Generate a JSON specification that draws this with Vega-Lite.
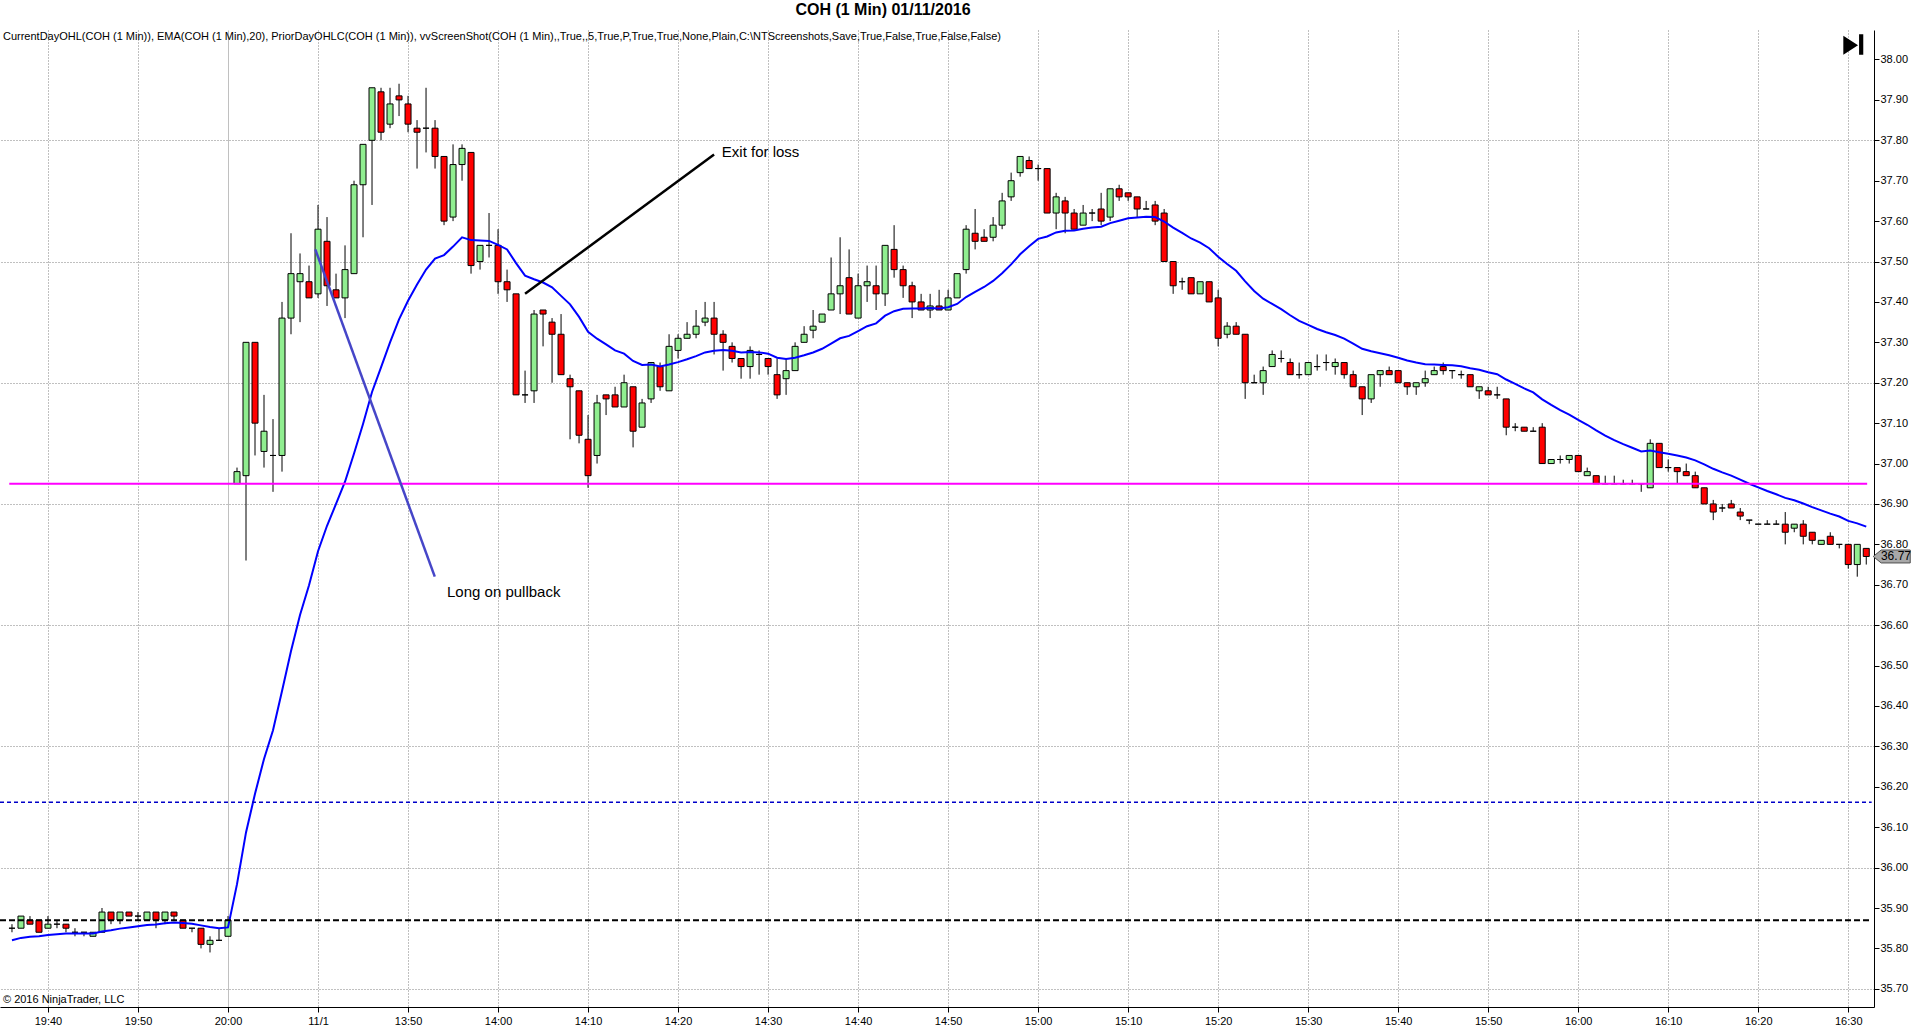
{
  "$schema": "https://vega.github.io/schema/vega-lite/v6.json",
  "width": 1874,
  "height": 977,
  "autosize": {"type": "none"},
  "padding": {"left": 0, "top": 30, "right": 46, "bottom": 27},
  "background": "white",
  "title": {
    "text": "COH (1 Min)  01/11/2016",
    "font": "Liberation Sans",
    "fontSize": 16,
    "fontWeight": "bold",
    "color": "black",
    "anchor": "middle",
    "frame": "group",
    "dx": -54,
    "offset": 12
  },
  "config": {
    "view": {"stroke": null},
    "font": "Liberation Sans",
    "axis": {"labelFont": "Liberation Sans", "labelColor": "black", "domainColor": "black", "tickColor": "black"}
  },
  "datasets": {
    "bars": [
      {"i":0,"t":"19:36","o":35.85,"h":35.86,"l":35.84,"c":35.85,"e":35.820},
      {"i":1,"t":"19:37","o":35.85,"h":35.88,"l":35.85,"c":35.88,"e":35.826},
      {"i":2,"t":"19:38","o":35.87,"h":35.88,"l":35.86,"c":35.86,"e":35.829},
      {"i":3,"t":"19:39","o":35.87,"h":35.87,"l":35.84,"c":35.84,"e":35.830},
      {"i":4,"t":"19:40","o":35.85,"h":35.88,"l":35.85,"c":35.86,"e":35.833},
      {"i":5,"t":"19:41","o":35.86,"h":35.87,"l":35.85,"c":35.86,"e":35.835},
      {"i":6,"t":"19:42","o":35.86,"h":35.86,"l":35.84,"c":35.85,"e":35.837},
      {"i":7,"t":"19:43","o":35.84,"h":35.85,"l":35.83,"c":35.84,"e":35.837},
      {"i":8,"t":"19:44","o":35.84,"h":35.84,"l":35.83,"c":35.84,"e":35.837},
      {"i":9,"t":"19:45","o":35.83,"h":35.84,"l":35.83,"c":35.84,"e":35.837},
      {"i":10,"t":"19:46","o":35.84,"h":35.90,"l":35.84,"c":35.89,"e":35.842},
      {"i":11,"t":"19:47","o":35.89,"h":35.89,"l":35.86,"c":35.87,"e":35.845},
      {"i":12,"t":"19:48","o":35.87,"h":35.89,"l":35.86,"c":35.89,"e":35.849},
      {"i":13,"t":"19:49","o":35.89,"h":35.89,"l":35.88,"c":35.88,"e":35.852},
      {"i":14,"t":"19:50","o":35.88,"h":35.89,"l":35.87,"c":35.88,"e":35.855},
      {"i":15,"t":"19:51","o":35.87,"h":35.89,"l":35.87,"c":35.89,"e":35.858},
      {"i":16,"t":"19:52","o":35.89,"h":35.89,"l":35.85,"c":35.87,"e":35.859},
      {"i":17,"t":"19:53","o":35.87,"h":35.89,"l":35.86,"c":35.89,"e":35.862},
      {"i":18,"t":"19:54","o":35.89,"h":35.89,"l":35.87,"c":35.88,"e":35.864},
      {"i":19,"t":"19:55","o":35.87,"h":35.87,"l":35.85,"c":35.85,"e":35.863},
      {"i":20,"t":"19:56","o":35.85,"h":35.85,"l":35.84,"c":35.85,"e":35.861},
      {"i":21,"t":"19:57","o":35.85,"h":35.85,"l":35.80,"c":35.81,"e":35.857},
      {"i":22,"t":"19:58","o":35.81,"h":35.83,"l":35.79,"c":35.82,"e":35.853},
      {"i":23,"t":"19:59","o":35.82,"h":35.85,"l":35.82,"c":35.82,"e":35.850},
      {"i":24,"t":"20:00","o":35.83,"h":35.88,"l":35.83,"c":35.87,"e":35.852},
      {"i":25,"t":"13:31","o":36.95,"h":36.99,"l":36.95,"c":36.98,"e":35.959},
      {"i":26,"t":"13:32","o":36.97,"h":37.30,"l":36.76,"c":37.30,"e":36.087},
      {"i":27,"t":"13:33","o":37.30,"h":37.30,"l":37.02,"c":37.10,"e":36.183},
      {"i":28,"t":"13:34","o":37.03,"h":37.17,"l":36.99,"c":37.08,"e":36.269},
      {"i":29,"t":"13:35","o":37.02,"h":37.11,"l":36.93,"c":37.02,"e":36.340},
      {"i":30,"t":"13:36","o":37.02,"h":37.40,"l":36.98,"c":37.36,"e":36.437},
      {"i":31,"t":"13:37","o":37.36,"h":37.57,"l":37.32,"c":37.47,"e":36.536},
      {"i":32,"t":"13:38","o":37.45,"h":37.52,"l":37.35,"c":37.47,"e":36.625},
      {"i":33,"t":"13:39","o":37.45,"h":37.49,"l":37.41,"c":37.41,"e":36.699},
      {"i":34,"t":"13:40","o":37.42,"h":37.64,"l":37.41,"c":37.58,"e":36.783},
      {"i":35,"t":"13:41","o":37.55,"h":37.61,"l":37.39,"c":37.44,"e":36.846},
      {"i":36,"t":"13:42","o":37.43,"h":37.47,"l":37.41,"c":37.41,"e":36.900},
      {"i":37,"t":"13:43","o":37.41,"h":37.54,"l":37.36,"c":37.48,"e":36.955},
      {"i":38,"t":"13:44","o":37.47,"h":37.70,"l":37.47,"c":37.69,"e":37.025},
      {"i":39,"t":"13:45","o":37.69,"h":37.79,"l":37.56,"c":37.79,"e":37.098},
      {"i":40,"t":"13:46","o":37.80,"h":37.93,"l":37.64,"c":37.93,"e":37.177},
      {"i":41,"t":"13:47","o":37.92,"h":37.93,"l":37.80,"c":37.82,"e":37.238},
      {"i":42,"t":"13:48","o":37.84,"h":37.93,"l":37.83,"c":37.89,"e":37.300},
      {"i":43,"t":"13:49","o":37.91,"h":37.94,"l":37.86,"c":37.90,"e":37.357},
      {"i":44,"t":"13:50","o":37.89,"h":37.91,"l":37.82,"c":37.84,"e":37.403},
      {"i":45,"t":"13:51","o":37.83,"h":37.85,"l":37.73,"c":37.82,"e":37.443},
      {"i":46,"t":"13:52","o":37.83,"h":37.93,"l":37.77,"c":37.83,"e":37.480},
      {"i":47,"t":"13:53","o":37.83,"h":37.85,"l":37.73,"c":37.76,"e":37.507},
      {"i":48,"t":"13:54","o":37.76,"h":37.76,"l":37.59,"c":37.60,"e":37.516},
      {"i":49,"t":"13:55","o":37.61,"h":37.79,"l":37.60,"c":37.74,"e":37.537},
      {"i":50,"t":"13:56","o":37.74,"h":37.79,"l":37.70,"c":37.78,"e":37.560},
      {"i":51,"t":"13:57","o":37.77,"h":37.77,"l":37.47,"c":37.49,"e":37.553},
      {"i":52,"t":"13:58","o":37.50,"h":37.54,"l":37.48,"c":37.54,"e":37.552},
      {"i":53,"t":"13:59","o":37.54,"h":37.62,"l":37.51,"c":37.54,"e":37.551},
      {"i":54,"t":"14:00","o":37.54,"h":37.58,"l":37.42,"c":37.45,"e":37.541},
      {"i":55,"t":"14:01","o":37.45,"h":37.48,"l":37.40,"c":37.43,"e":37.530},
      {"i":56,"t":"14:02","o":37.42,"h":37.42,"l":37.17,"c":37.17,"e":37.496},
      {"i":57,"t":"14:03","o":37.17,"h":37.23,"l":37.15,"c":37.17,"e":37.465},
      {"i":58,"t":"14:04","o":37.18,"h":37.38,"l":37.15,"c":37.37,"e":37.456},
      {"i":59,"t":"14:05","o":37.38,"h":37.38,"l":37.29,"c":37.37,"e":37.448},
      {"i":60,"t":"14:06","o":37.35,"h":37.36,"l":37.20,"c":37.32,"e":37.436},
      {"i":61,"t":"14:07","o":37.32,"h":37.37,"l":37.22,"c":37.22,"e":37.415},
      {"i":62,"t":"14:08","o":37.21,"h":37.22,"l":37.06,"c":37.19,"e":37.394},
      {"i":63,"t":"14:09","o":37.18,"h":37.18,"l":37.05,"c":37.07,"e":37.363},
      {"i":64,"t":"14:10","o":37.06,"h":37.12,"l":36.94,"c":36.97,"e":37.326},
      {"i":65,"t":"14:11","o":37.02,"h":37.17,"l":37.00,"c":37.15,"e":37.309},
      {"i":66,"t":"14:12","o":37.17,"h":37.17,"l":37.12,"c":37.16,"e":37.295},
      {"i":67,"t":"14:13","o":37.17,"h":37.19,"l":37.14,"c":37.14,"e":37.280},
      {"i":68,"t":"14:14","o":37.14,"h":37.22,"l":37.14,"c":37.20,"e":37.272},
      {"i":69,"t":"14:15","o":37.19,"h":37.19,"l":37.04,"c":37.08,"e":37.254},
      {"i":70,"t":"14:16","o":37.09,"h":37.16,"l":37.09,"c":37.15,"e":37.244},
      {"i":71,"t":"14:17","o":37.16,"h":37.25,"l":37.15,"c":37.25,"e":37.245},
      {"i":72,"t":"14:18","o":37.24,"h":37.25,"l":37.18,"c":37.19,"e":37.240},
      {"i":73,"t":"14:19","o":37.18,"h":37.32,"l":37.18,"c":37.29,"e":37.245},
      {"i":74,"t":"14:20","o":37.28,"h":37.32,"l":37.26,"c":37.31,"e":37.251},
      {"i":75,"t":"14:21","o":37.31,"h":37.35,"l":37.31,"c":37.32,"e":37.258},
      {"i":76,"t":"14:22","o":37.32,"h":37.38,"l":37.31,"c":37.34,"e":37.266},
      {"i":77,"t":"14:23","o":37.35,"h":37.40,"l":37.34,"c":37.36,"e":37.275},
      {"i":78,"t":"14:24","o":37.36,"h":37.40,"l":37.27,"c":37.32,"e":37.279},
      {"i":79,"t":"14:25","o":37.32,"h":37.33,"l":37.23,"c":37.30,"e":37.281},
      {"i":80,"t":"14:26","o":37.29,"h":37.30,"l":37.25,"c":37.26,"e":37.279},
      {"i":81,"t":"14:27","o":37.26,"h":37.26,"l":37.21,"c":37.24,"e":37.275},
      {"i":82,"t":"14:28","o":37.24,"h":37.29,"l":37.21,"c":37.28,"e":37.276},
      {"i":83,"t":"14:29","o":37.27,"h":37.28,"l":37.22,"c":37.27,"e":37.275},
      {"i":84,"t":"14:30","o":37.26,"h":37.26,"l":37.22,"c":37.24,"e":37.272},
      {"i":85,"t":"14:31","o":37.22,"h":37.26,"l":37.16,"c":37.17,"e":37.262},
      {"i":86,"t":"14:32","o":37.21,"h":37.26,"l":37.17,"c":37.23,"e":37.259},
      {"i":87,"t":"14:33","o":37.23,"h":37.30,"l":37.23,"c":37.29,"e":37.262},
      {"i":88,"t":"14:34","o":37.30,"h":37.34,"l":37.30,"c":37.32,"e":37.268},
      {"i":89,"t":"14:35","o":37.33,"h":37.38,"l":37.31,"c":37.34,"e":37.275},
      {"i":90,"t":"14:36","o":37.35,"h":37.37,"l":37.35,"c":37.37,"e":37.284},
      {"i":91,"t":"14:37","o":37.38,"h":37.51,"l":37.38,"c":37.42,"e":37.297},
      {"i":92,"t":"14:38","o":37.42,"h":37.56,"l":37.37,"c":37.44,"e":37.310},
      {"i":93,"t":"14:39","o":37.46,"h":37.53,"l":37.37,"c":37.37,"e":37.316},
      {"i":94,"t":"14:40","o":37.36,"h":37.47,"l":37.36,"c":37.44,"e":37.328},
      {"i":95,"t":"14:41","o":37.44,"h":37.49,"l":37.40,"c":37.45,"e":37.340},
      {"i":96,"t":"14:42","o":37.44,"h":37.49,"l":37.38,"c":37.42,"e":37.347},
      {"i":97,"t":"14:43","o":37.42,"h":37.54,"l":37.39,"c":37.54,"e":37.366},
      {"i":98,"t":"14:44","o":37.53,"h":37.59,"l":37.46,"c":37.48,"e":37.377},
      {"i":99,"t":"14:45","o":37.48,"h":37.49,"l":37.41,"c":37.44,"e":37.383},
      {"i":100,"t":"14:46","o":37.44,"h":37.45,"l":37.36,"c":37.40,"e":37.384},
      {"i":101,"t":"14:47","o":37.40,"h":37.42,"l":37.38,"c":37.38,"e":37.384},
      {"i":102,"t":"14:48","o":37.38,"h":37.42,"l":37.36,"c":37.39,"e":37.385},
      {"i":103,"t":"14:49","o":37.39,"h":37.43,"l":37.38,"c":37.38,"e":37.384},
      {"i":104,"t":"14:50","o":37.38,"h":37.43,"l":37.38,"c":37.41,"e":37.387},
      {"i":105,"t":"14:51","o":37.41,"h":37.47,"l":37.41,"c":37.47,"e":37.395},
      {"i":106,"t":"14:52","o":37.48,"h":37.59,"l":37.47,"c":37.58,"e":37.412},
      {"i":107,"t":"14:53","o":37.57,"h":37.63,"l":37.53,"c":37.55,"e":37.425},
      {"i":108,"t":"14:54","o":37.56,"h":37.58,"l":37.55,"c":37.55,"e":37.437},
      {"i":109,"t":"14:55","o":37.56,"h":37.61,"l":37.55,"c":37.59,"e":37.452},
      {"i":110,"t":"14:56","o":37.59,"h":37.67,"l":37.58,"c":37.65,"e":37.471},
      {"i":111,"t":"14:57","o":37.66,"h":37.72,"l":37.65,"c":37.70,"e":37.493},
      {"i":112,"t":"14:58","o":37.72,"h":37.76,"l":37.71,"c":37.76,"e":37.518},
      {"i":113,"t":"14:59","o":37.75,"h":37.76,"l":37.73,"c":37.73,"e":37.538},
      {"i":114,"t":"15:00","o":37.73,"h":37.74,"l":37.70,"c":37.73,"e":37.556},
      {"i":115,"t":"15:01","o":37.73,"h":37.73,"l":37.62,"c":37.62,"e":37.562},
      {"i":116,"t":"15:02","o":37.62,"h":37.67,"l":37.58,"c":37.66,"e":37.572},
      {"i":117,"t":"15:03","o":37.65,"h":37.66,"l":37.57,"c":37.62,"e":37.576},
      {"i":118,"t":"15:04","o":37.62,"h":37.63,"l":37.58,"c":37.58,"e":37.577},
      {"i":119,"t":"15:05","o":37.59,"h":37.64,"l":37.59,"c":37.62,"e":37.581},
      {"i":120,"t":"15:06","o":37.62,"h":37.63,"l":37.60,"c":37.62,"e":37.584},
      {"i":121,"t":"15:07","o":37.63,"h":37.67,"l":37.59,"c":37.60,"e":37.586},
      {"i":122,"t":"15:08","o":37.61,"h":37.68,"l":37.60,"c":37.68,"e":37.595},
      {"i":123,"t":"15:09","o":37.68,"h":37.69,"l":37.65,"c":37.66,"e":37.601},
      {"i":124,"t":"15:10","o":37.67,"h":37.67,"l":37.65,"c":37.66,"e":37.607},
      {"i":125,"t":"15:11","o":37.66,"h":37.66,"l":37.61,"c":37.63,"e":37.609},
      {"i":126,"t":"15:12","o":37.63,"h":37.65,"l":37.63,"c":37.63,"e":37.611},
      {"i":127,"t":"15:13","o":37.64,"h":37.65,"l":37.59,"c":37.60,"e":37.610},
      {"i":128,"t":"15:14","o":37.62,"h":37.63,"l":37.50,"c":37.50,"e":37.599},
      {"i":129,"t":"15:15","o":37.50,"h":37.50,"l":37.42,"c":37.44,"e":37.584},
      {"i":130,"t":"15:16","o":37.45,"h":37.46,"l":37.43,"c":37.45,"e":37.571},
      {"i":131,"t":"15:17","o":37.46,"h":37.46,"l":37.42,"c":37.42,"e":37.557},
      {"i":132,"t":"15:18","o":37.42,"h":37.45,"l":37.42,"c":37.45,"e":37.547},
      {"i":133,"t":"15:19","o":37.45,"h":37.45,"l":37.40,"c":37.40,"e":37.533},
      {"i":134,"t":"15:20","o":37.41,"h":37.43,"l":37.29,"c":37.31,"e":37.512},
      {"i":135,"t":"15:21","o":37.32,"h":37.35,"l":37.31,"c":37.34,"e":37.494},
      {"i":136,"t":"15:22","o":37.34,"h":37.35,"l":37.32,"c":37.32,"e":37.477},
      {"i":137,"t":"15:23","o":37.32,"h":37.32,"l":37.16,"c":37.20,"e":37.451},
      {"i":138,"t":"15:24","o":37.20,"h":37.22,"l":37.20,"c":37.20,"e":37.427},
      {"i":139,"t":"15:25","o":37.20,"h":37.24,"l":37.17,"c":37.23,"e":37.408},
      {"i":140,"t":"15:26","o":37.24,"h":37.28,"l":37.24,"c":37.27,"e":37.395},
      {"i":141,"t":"15:27","o":37.26,"h":37.28,"l":37.25,"c":37.26,"e":37.382},
      {"i":142,"t":"15:28","o":37.25,"h":37.26,"l":37.22,"c":37.22,"e":37.367},
      {"i":143,"t":"15:29","o":37.22,"h":37.25,"l":37.21,"c":37.22,"e":37.353},
      {"i":144,"t":"15:30","o":37.22,"h":37.25,"l":37.22,"c":37.25,"e":37.343},
      {"i":145,"t":"15:31","o":37.24,"h":37.27,"l":37.23,"c":37.24,"e":37.333},
      {"i":146,"t":"15:32","o":37.25,"h":37.27,"l":37.23,"c":37.25,"e":37.325},
      {"i":147,"t":"15:33","o":37.24,"h":37.26,"l":37.22,"c":37.25,"e":37.318},
      {"i":148,"t":"15:34","o":37.25,"h":37.25,"l":37.21,"c":37.22,"e":37.309},
      {"i":149,"t":"15:35","o":37.22,"h":37.23,"l":37.19,"c":37.19,"e":37.297},
      {"i":150,"t":"15:36","o":37.19,"h":37.19,"l":37.12,"c":37.16,"e":37.284},
      {"i":151,"t":"15:37","o":37.16,"h":37.22,"l":37.15,"c":37.22,"e":37.278},
      {"i":152,"t":"15:38","o":37.22,"h":37.23,"l":37.19,"c":37.23,"e":37.273},
      {"i":153,"t":"15:39","o":37.23,"h":37.24,"l":37.22,"c":37.22,"e":37.268},
      {"i":154,"t":"15:40","o":37.23,"h":37.23,"l":37.20,"c":37.20,"e":37.262},
      {"i":155,"t":"15:41","o":37.20,"h":37.20,"l":37.17,"c":37.19,"e":37.255},
      {"i":156,"t":"15:42","o":37.19,"h":37.20,"l":37.17,"c":37.20,"e":37.250},
      {"i":157,"t":"15:43","o":37.20,"h":37.23,"l":37.19,"c":37.21,"e":37.246},
      {"i":158,"t":"15:44","o":37.22,"h":37.24,"l":37.22,"c":37.23,"e":37.245},
      {"i":159,"t":"15:45","o":37.24,"h":37.25,"l":37.22,"c":37.23,"e":37.244},
      {"i":160,"t":"15:46","o":37.23,"h":37.23,"l":37.21,"c":37.23,"e":37.243},
      {"i":161,"t":"15:47","o":37.22,"h":37.23,"l":37.21,"c":37.22,"e":37.241},
      {"i":162,"t":"15:48","o":37.22,"h":37.22,"l":37.19,"c":37.19,"e":37.236},
      {"i":163,"t":"15:49","o":37.18,"h":37.19,"l":37.16,"c":37.19,"e":37.232},
      {"i":164,"t":"15:50","o":37.18,"h":37.19,"l":37.17,"c":37.17,"e":37.226},
      {"i":165,"t":"15:51","o":37.17,"h":37.19,"l":37.16,"c":37.17,"e":37.221},
      {"i":166,"t":"15:52","o":37.16,"h":37.16,"l":37.07,"c":37.09,"e":37.208},
      {"i":167,"t":"15:53","o":37.09,"h":37.10,"l":37.08,"c":37.09,"e":37.197},
      {"i":168,"t":"15:54","o":37.09,"h":37.09,"l":37.08,"c":37.08,"e":37.186},
      {"i":169,"t":"15:55","o":37.08,"h":37.09,"l":37.08,"c":37.08,"e":37.176},
      {"i":170,"t":"15:56","o":37.09,"h":37.10,"l":37.00,"c":37.00,"e":37.159},
      {"i":171,"t":"15:57","o":37.00,"h":37.01,"l":37.00,"c":37.01,"e":37.145},
      {"i":172,"t":"15:58","o":37.01,"h":37.02,"l":37.00,"c":37.01,"e":37.132},
      {"i":173,"t":"15:59","o":37.01,"h":37.02,"l":37.00,"c":37.02,"e":37.121},
      {"i":174,"t":"16:00","o":37.02,"h":37.02,"l":36.98,"c":36.98,"e":37.108},
      {"i":175,"t":"16:01","o":36.97,"h":36.99,"l":36.97,"c":36.98,"e":37.096},
      {"i":176,"t":"16:02","o":36.97,"h":36.97,"l":36.95,"c":36.95,"e":37.082},
      {"i":177,"t":"16:03","o":36.95,"h":36.97,"l":36.95,"c":36.95,"e":37.069},
      {"i":178,"t":"16:04","o":36.95,"h":36.97,"l":36.95,"c":36.95,"e":37.058},
      {"i":179,"t":"16:05","o":36.95,"h":36.96,"l":36.95,"c":36.95,"e":37.048},
      {"i":180,"t":"16:06","o":36.95,"h":36.96,"l":36.95,"c":36.95,"e":37.039},
      {"i":181,"t":"16:07","o":36.95,"h":36.95,"l":36.93,"c":36.95,"e":37.030},
      {"i":182,"t":"16:08","o":36.94,"h":37.06,"l":36.94,"c":37.05,"e":37.032},
      {"i":183,"t":"16:09","o":37.05,"h":37.05,"l":36.99,"c":36.99,"e":37.028},
      {"i":184,"t":"16:10","o":36.99,"h":37.01,"l":36.98,"c":36.99,"e":37.024},
      {"i":185,"t":"16:11","o":36.99,"h":36.99,"l":36.95,"c":36.98,"e":37.020},
      {"i":186,"t":"16:12","o":36.98,"h":37.00,"l":36.97,"c":36.97,"e":37.015},
      {"i":187,"t":"16:13","o":36.97,"h":36.98,"l":36.94,"c":36.94,"e":37.008},
      {"i":188,"t":"16:14","o":36.94,"h":36.94,"l":36.90,"c":36.90,"e":36.998},
      {"i":189,"t":"16:15","o":36.90,"h":36.91,"l":36.86,"c":36.88,"e":36.987},
      {"i":190,"t":"16:16","o":36.89,"h":36.90,"l":36.88,"c":36.89,"e":36.978},
      {"i":191,"t":"16:17","o":36.90,"h":36.91,"l":36.89,"c":36.89,"e":36.970},
      {"i":192,"t":"16:18","o":36.88,"h":36.89,"l":36.86,"c":36.87,"e":36.960},
      {"i":193,"t":"16:19","o":36.86,"h":36.86,"l":36.85,"c":36.86,"e":36.950},
      {"i":194,"t":"16:20","o":36.85,"h":36.85,"l":36.85,"c":36.85,"e":36.941},
      {"i":195,"t":"16:21","o":36.85,"h":36.86,"l":36.85,"c":36.85,"e":36.932},
      {"i":196,"t":"16:22","o":36.85,"h":36.86,"l":36.85,"c":36.85,"e":36.924},
      {"i":197,"t":"16:23","o":36.85,"h":36.88,"l":36.80,"c":36.83,"e":36.915},
      {"i":198,"t":"16:24","o":36.84,"h":36.85,"l":36.83,"c":36.85,"e":36.909},
      {"i":199,"t":"16:25","o":36.85,"h":36.86,"l":36.80,"c":36.82,"e":36.901},
      {"i":200,"t":"16:26","o":36.83,"h":36.83,"l":36.80,"c":36.81,"e":36.892},
      {"i":201,"t":"16:27","o":36.80,"h":36.81,"l":36.80,"c":36.81,"e":36.884},
      {"i":202,"t":"16:28","o":36.82,"h":36.83,"l":36.80,"c":36.80,"e":36.876},
      {"i":203,"t":"16:29","o":36.80,"h":36.80,"l":36.79,"c":36.80,"e":36.869},
      {"i":204,"t":"16:30","o":36.80,"h":36.80,"l":36.74,"c":36.75,"e":36.858},
      {"i":205,"t":"16:31","o":36.75,"h":36.80,"l":36.72,"c":36.80,"e":36.852},
      {"i":206,"t":"16:32","o":36.79,"h":36.79,"l":36.75,"c":36.77,"e":36.844}
    ]
  },
  "layer": [
    {
      "data": {"name": "bars"},
      "mark": {"type": "rule", "color": "black", "strokeWidth": 1},
      "encoding": {
        "x": {
          "field": "i",
          "type": "quantitative",
          "title": null,
          "scale": {"domain": [-1.33, 206.86], "nice": false, "zero": false, "padding": 0},
          "axis": {
            "title": null,
            "values": [4, 14, 24, 34, 44, 54, 64, 74, 84, 94, 104, 114, 124, 134, 144, 154, 164, 174, 184, 194, 204],
            "labelExpr": "['19:40','19:50','20:00','11/1','13:50','14:00','14:10','14:20','14:30','14:40','14:50','15:00','15:10','15:20','15:30','15:40','15:50','16:00','16:10','16:20','16:30'][round((datum.value - 4) / 10)]",
            "labelFontSize": 11,
            "labelPadding": 3,
            "labelFlush": false,
            "labelOverlap": false,
            "tickSize": 5,
            "grid": true,
            "gridColor": {"condition": {"test": "datum.value == 24", "value": "#c0c0c0"}, "value": "#808080"},
            "gridDash": {"condition": {"test": "datum.value == 24", "value": []}, "value": [1, 2]}
          }
        },
        "y": {
          "field": "l",
          "type": "quantitative",
          "title": null,
          "scale": {"domain": [35.655, 38.073], "nice": false, "zero": false, "padding": 0},
          "axis": {
            "orient": "right",
            "title": null,
            "values": [35.7, 35.8, 35.9, 36.0, 36.1, 36.2, 36.3, 36.4, 36.5, 36.6, 36.7, 36.8, 36.9, 37.0, 37.1, 37.2, 37.3, 37.4, 37.5, 37.6, 37.7, 37.8, 37.9, 38.0],
            "format": ".2f",
            "labelFontSize": 11,
            "labelPadding": 1,
            "tickSize": 5,
            "grid": true,
            "gridColor": "#808080",
            "gridDash": [1, 2],
            "gridOpacity": {"condition": {"test": "round(datum.value * 10) % 3 == 0", "value": 1}, "value": 0}
          }
        },
        "y2": {"field": "h"}
      }
    },
    {
      "data": {"name": "bars"},
      "mark": {"type": "bar", "size": 6, "stroke": "black", "strokeWidth": 1},
      "encoding": {
        "x": {"field": "i", "type": "quantitative", "title": null},
        "y": {"field": "o", "type": "quantitative", "title": null},
        "y2": {"field": "c"},
        "fill": {"condition": {"test": "datum.c >= datum.o", "value": "#90ee90"}, "value": "#ff0000"}
      }
    },
    {
      "data": {"name": "bars"},
      "mark": {"type": "line", "color": "#0000ff", "strokeWidth": 2},
      "encoding": {
        "x": {"field": "i", "type": "quantitative", "title": null},
        "y": {"field": "e", "type": "quantitative", "title": null}
      }
    },
    {
      "data": {"values": [{"x0": -1.33, "x1": 206.6, "p": 35.87}]},
      "mark": {"type": "rule", "color": "black", "strokeWidth": 2, "strokeDash": [6, 3]},
      "encoding": {
        "x": {"field": "x0", "type": "quantitative", "title": null},
        "x2": {"field": "x1"},
        "y": {"field": "p", "type": "quantitative", "title": null}
      }
    },
    {
      "data": {"values": [{"x0": -1.33, "x1": 206.6, "p": 36.162}]},
      "mark": {"type": "rule", "color": "#0000c8", "strokeWidth": 1.5, "strokeDash": [4, 3]},
      "encoding": {
        "x": {"field": "x0", "type": "quantitative", "title": null},
        "x2": {"field": "x1"},
        "y": {"field": "p", "type": "quantitative", "title": null}
      }
    },
    {
      "data": {"values": [{"x0": -0.3, "x1": 206.1, "p": 36.95}]},
      "mark": {"type": "rule", "color": "#ff00ff", "strokeWidth": 2},
      "encoding": {
        "x": {"field": "x0", "type": "quantitative", "title": null},
        "x2": {"field": "x1"},
        "y": {"field": "p", "type": "quantitative", "title": null}
      }
    },
    {
      "data": {"values": [{"x0": 33.7, "x1": 46.97, "p0": 37.53, "p1": 36.72}]},
      "mark": {"type": "rule", "color": "#4646c8", "strokeWidth": 2.5},
      "encoding": {
        "x": {"field": "x0", "type": "quantitative", "title": null},
        "x2": {"field": "x1"},
        "y": {"field": "p0", "type": "quantitative", "title": null},
        "y2": {"field": "p1"}
      }
    },
    {
      "data": {"values": [{"x0": 57.0, "x1": 78.0, "p0": 37.42, "p1": 37.765}]},
      "mark": {"type": "rule", "color": "black", "strokeWidth": 2.5},
      "encoding": {
        "x": {"field": "x0", "type": "quantitative", "title": null},
        "x2": {"field": "x1"},
        "y": {"field": "p0", "type": "quantitative", "title": null},
        "y2": {"field": "p1"}
      }
    },
    {
      "data": {"values": [
        {"x": 48.33, "p": 36.683, "txt": "Long on pullback"},
        {"x": 78.86, "p": 37.772, "txt": "Exit for loss"}
      ]},
      "mark": {"type": "text", "align": "left", "baseline": "middle", "font": "Liberation Sans", "fontSize": 15, "color": "black"},
      "encoding": {
        "x": {"field": "x", "type": "quantitative", "title": null},
        "y": {"field": "p", "type": "quantitative", "title": null},
        "text": {"field": "txt"}
      }
    },
    {
      "data": {"values": [
        {"x": -1.0, "p": 38.0557, "txt": "CurrentDayOHL(COH (1 Min)), EMA(COH (1 Min),20), PriorDayOHLC(COH (1 Min)), vvScreenShot(COH (1 Min),,True,,5,True,P,True,True,None,Plain,C:\\NTScreenshots,Save,True,False,True,False,False)"}
      ]},
      "mark": {"type": "text", "align": "left", "baseline": "middle", "font": "Liberation Sans", "fontSize": 11, "color": "black"},
      "encoding": {
        "x": {"field": "x", "type": "quantitative", "title": null},
        "y": {"field": "p", "type": "quantitative", "title": null},
        "text": {"field": "txt"}
      }
    },
    {
      "data": {"values": [
        {"x": -1.0, "p": 35.672, "txt": "© 2016 NinjaTrader, LLC"}
      ]},
      "mark": {"type": "text", "align": "left", "baseline": "middle", "font": "Liberation Sans", "fontSize": 11, "color": "black"},
      "encoding": {
        "x": {"field": "x", "type": "quantitative", "title": null},
        "y": {"field": "p", "type": "quantitative", "title": null},
        "text": {"field": "txt"}
      }
    },
    {
      "data": {"values": [{"x": 208.83, "p": 36.77}]},
      "mark": {"type": "point", "shape": "M -1 0 L -0.57 -0.35 L 1 -0.35 L 1 0.35 L -0.57 0.35 Z", "size": 1369, "filled": true, "fill": "#a8a8a8", "fillOpacity": 1, "stroke": "#505050", "strokeWidth": 1, "opacity": 1},
      "encoding": {
        "x": {"field": "x", "type": "quantitative", "title": null},
        "y": {"field": "p", "type": "quantitative", "title": null}
      }
    },
    {
      "data": {"values": [{"x": 209.3, "p": 36.77}]},
      "mark": {"type": "text", "align": "center", "baseline": "middle", "font": "Liberation Sans", "fontSize": 12, "color": "black"},
      "encoding": {
        "x": {"field": "x", "type": "quantitative", "title": null},
        "y": {"field": "p", "type": "quantitative", "title": null},
        "text": {"field": "p", "type": "quantitative", "format": ".2f"}
      }
    },
    {
      "data": {"values": [{"x": 204.56, "p": 38.0366}]},
      "mark": {"type": "point", "shape": "M -0.95 -0.85 L 0.45 0.05 L -0.95 0.95 Z M 0.55 -1 L 0.95 -1 L 0.95 0.95 L 0.55 0.95 Z", "size": 441, "filled": true, "fill": "black", "opacity": 1, "strokeWidth": 0},
      "encoding": {
        "x": {"field": "x", "type": "quantitative", "title": null},
        "y": {"field": "p", "type": "quantitative", "title": null}
      }
    }
  ]
}
